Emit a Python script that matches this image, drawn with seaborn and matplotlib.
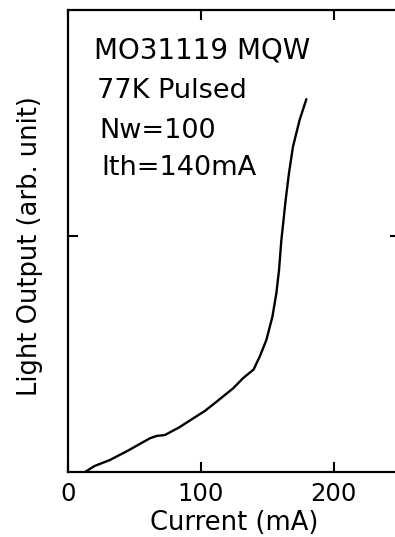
import matplotlib
matplotlib.use("Agg")
import matplotlib.pyplot as plt
import seaborn as sns
import pandas as pd

# Data (current in mA, light output in arbitrary units)
current_ma = [12.8, 20, 31.6, 45, 61.7, 66.7, 72.9, 84, 94.2, 103, 111.8, 124.3,
              131.8, 139.8, 144.4, 149.4, 153.9, 156.9, 158.9, 160.6, 163.9,
              166.4, 169.4, 174.4, 179.5]
light_out = [0.0, 0.013, 0.026, 0.046, 0.073, 0.078, 0.080, 0.097, 0.116, 0.132,
             0.152, 0.181, 0.203, 0.222, 0.250, 0.286, 0.336, 0.387, 0.437, 0.50,
             0.589, 0.647, 0.704, 0.762, 0.807]
x_ticks = [0, 100, 200]
x_tick_labels = ["0", "100", "200"]
y_ticks = [0.51]
annotations = ["MO31119 MQW", "77K Pulsed", "Nw=100", "Ith=140mA"]

sns.set_style("ticks")
plt.rcParams["font.family"] = ["DejaVu Sans"]
plt.rcParams["text.color"] = "black"
plt.rcParams["axes.labelcolor"] = "black"
plt.rcParams["xtick.color"] = "black"
plt.rcParams["ytick.color"] = "black"

df = pd.DataFrame({"Current": current_ma, "Light": light_out})

fig = plt.figure(figsize=(3.95, 5.37), dpi=100)
ax = fig.add_axes([68 / 395, 65 / 537, 332 / 395, 462 / 537])

sns.lineplot(data=df, x="Current", y="Light", ax=ax, sort=False, estimator=None,
             color="black", linewidth=1.7)

ax.set_xlim(0, 250)
ax.set_ylim(0, 1)

for s in ax.spines.values():
    s.set_visible(True)
    s.set_linewidth(1.6)
    s.set_color("black")

ax.set_xticks(x_ticks)
ax.set_xticklabels(x_tick_labels)
ax.set_yticks(y_ticks)
ax.set_yticklabels([])
ax.tick_params(axis="both", which="major", direction="in", length=7, width=1.5,
               top=True, right=True, labelsize=17.5, pad=7.5,
               colors="black", labelcolor="black")

ax.set_xlabel("Current (mA)", fontsize=18.5, color="black")
ax.set_ylabel("Light Output (arb. unit)", fontsize=18.5, color="black")
ax.xaxis.set_label_coords(0.5, -0.083)
ax.yaxis.set_label_coords(-0.075, 0.49)

xs = [0.078, 0.087, 0.096, 0.102]
ys = [0.896, 0.810, 0.723, 0.643]
sizes = [20, 19.5, 19.5, 19.5]
for t, xx, yy, fs in zip(annotations, xs, ys, sizes):
    ax.text(xx, yy, t, transform=ax.transAxes, fontsize=fs, va="baseline",
            ha="left", color="black")

fig.savefig("out.png", dpi=100)
